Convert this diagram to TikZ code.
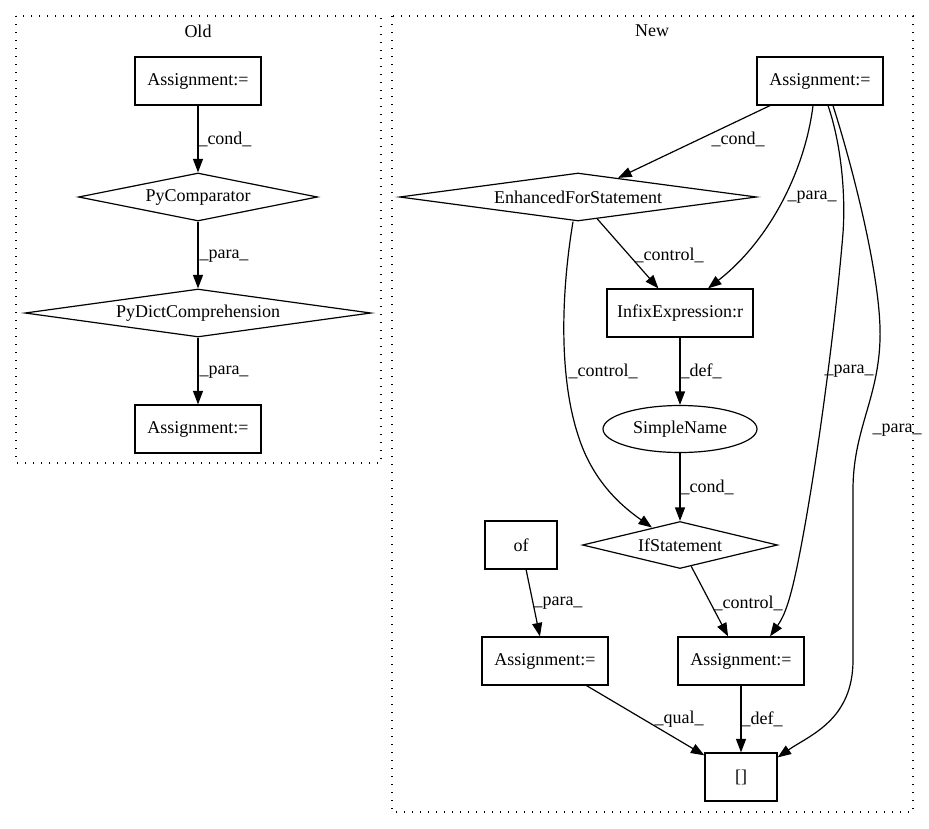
\documentclass[tikz,border=0pt]{standalone}
\usepackage{fontspec}
\setmainfont{Liberation Serif}
\usetikzlibrary{shapes.geometric,arrows.meta}
\begin{document}
\begin{tikzpicture}[x=1pt,y=-1pt,
  every node/.style={font=\fontsize{18}{21}\selectfont},
  box/.style={draw,rectangle,inner sep=0pt,minimum height=48pt,line width=1.2pt},
  dia/.style={draw,diamond,shape aspect=6,inner sep=0pt,line width=1.2pt},
  ell/.style={draw,ellipse,inner sep=0pt,line width=1.2pt},
  arr/.style={-{Triangle[length=13.5pt,width=10pt]},line width=1.2pt},
  lbl/.style={inner sep=0pt},
  clus/.style={line width=1.2pt,dash pattern=on 1.3pt off 6.7pt}]
\fill[white] (0,0) rectangle (929,828);
\path[use as bounding box] (0,0) rectangle (929,828);

% clusters
\draw[clus] (16,16) rectangle (381,463);
\node[lbl] (oldlbl) at (198,31) {Old};
\draw[clus] (392,16) rectangle (913,812);
\node[lbl] (newlbl) at (652,31) {New};

% Old nodes
\node[box,minimum width=126pt] (oa1) at (198,81) {Assignment:=};
\node[dia,minimum width=239pt,minimum height=48pt] (pc) at (198,197) {PyComparator};
\node[dia,minimum width=346pt,minimum height=48pt] (pd) at (198,313) {PyDictComprehension};
\node[box,minimum width=126pt] (oa2) at (198,429) {Assignment:=};

\draw[arr] (oa1) -- (pc);
\draw[arr] (pc) -- (pd);
\draw[arr] (pd) -- (oa2);
\node[lbl] (l1) at (225,139) {\_cond\_};
\node[lbl] (l2) at (224,256) {\_para\_};
\node[lbl] (l3) at (224,372) {\_para\_};

% New nodes
\node[box,minimum width=126pt] (na) at (820,81) {Assignment:=};
\node[dia,minimum width=357pt,minimum height=48pt] (efs) at (578,197) {EnhancedForStatement};
\node[box,minimum width=146pt] (infix) at (680,313) {InfixExpression:r};
\node[ell,minimum width=154pt,minimum height=47pt] (sn) at (680,429) {SimpleName};
\node[dia,minimum width=195pt,minimum height=47pt] (ifs) at (680,545) {IfStatement};
\node[box,minimum width=72pt] (of) at (521,545) {of};
\node[box,minimum width=126pt] (aof) at (545,661) {Assignment:=};
\node[box,minimum width=126pt] (aif) at (741,661) {Assignment:=};
\node[box,minimum width=72pt] (br) at (741,777) {[]};

% New edges
\draw[arr] ([xshift=-50pt]na.south) -- (efs);
\draw[arr] ([xshift=-7pt]na.south) .. controls (805,170) and (770,240) .. ([xshift=28pt]infix.north);
\draw[arr] ([xshift=8pt]na.south) .. controls (840,140) and (846,190) .. (843,233)
   .. controls (835,330) and (815,480) .. (797,567)
   .. controls (790,600) and (785,615) .. ([xshift=29pt]aif.north);
\draw[arr] ([xshift=13pt]na.south) .. controls (852,165) and (882,280) .. (880,340)
   .. controls (878,400) and (853,430) .. (853,490) -- (853,660)
   .. controls (853,720) and (810,735) .. ([yshift=-5pt]br.north east);
\draw[arr] (efs) -- (infix);
\draw[arr] ([xshift=-5pt]efs.south) .. controls (560,300) and (560,380) .. (578,435)
   .. controls (592,480) and (620,505) .. ([xshift=-28pt,yshift=-6.6pt]ifs.north);
\draw[arr] (infix) -- (sn);
\draw[arr] (sn) -- (ifs);
\draw[arr] (ifs) -- (aif);
\draw[arr] (of) -- (aof);
\draw[arr] (aof) -- (br);
\draw[arr] (aif) -- (br);

% New labels
\node[lbl] (l4) at (738,139) {\_cond\_};
\node[lbl] (l5) at (812,197) {\_para\_};
\node[lbl] (l6) at (669,255) {\_control\_};
\node[lbl] (l7) at (603,371) {\_control\_};
\node[lbl] (l8) at (701,371) {\_def\_};
\node[lbl] (l9) at (849,371) {\_para\_};
\node[lbl] (l10) at (897,430) {\_para\_};
\node[lbl] (l11) at (707,487) {\_cond\_};
\node[lbl] (l12) at (558,603) {\_para\_};
\node[lbl] (l13) at (748,603) {\_control\_};
\node[lbl] (l14) at (679,719) {\_qual\_};
\node[lbl] (l15) at (762,719) {\_def\_};
\end{tikzpicture}
\end{document}
